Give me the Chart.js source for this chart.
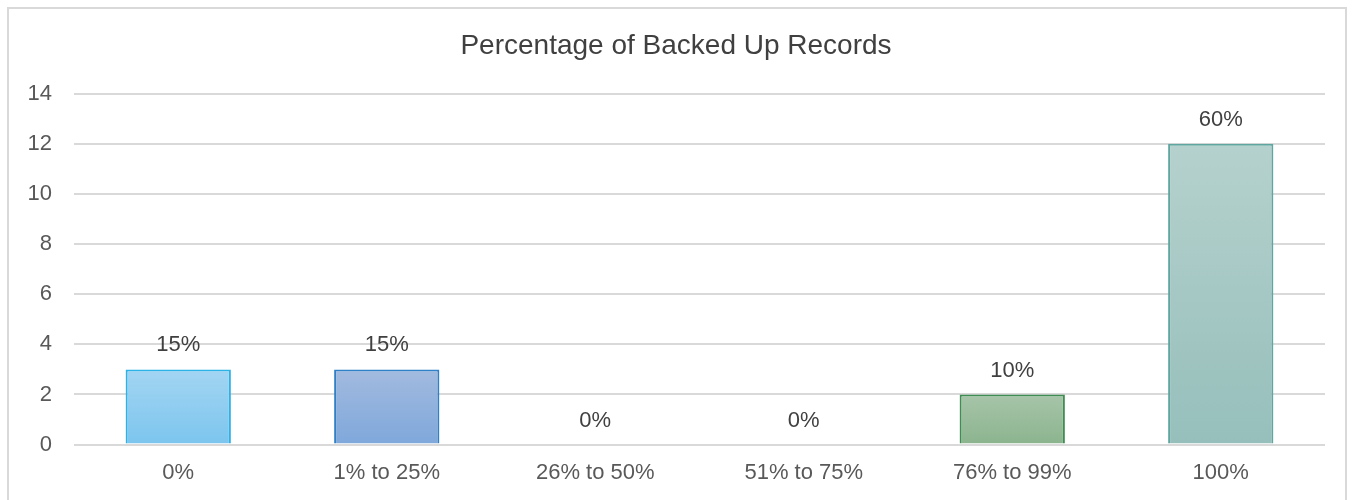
<!DOCTYPE html>
<html>
<head>
<meta charset="utf-8">
<script src="https://cdn.jsdelivr.net/npm/chart.js@4.4.1/dist/chart.umd.min.js"></script>
<style>
  html, body { margin: 0; padding: 0; background: #fff; }
  #box {
    position: absolute; left: 7px; top: 7px; width: 1340px; height: 510px;
    border: 2px solid #d9d9d9; box-sizing: border-box; background: #fff;
  }
  #wrap { position: absolute; left: 0; top: 0; width: 1336px; height: 493px; }
</style>
</head>
<body>
<div id="box"><div id="wrap"><canvas id="myChart"></canvas></div></div>
<script>
const categories = ['0%', '1% to 25%', '26% to 50%', '51% to 75%', '76% to 99%', '100%'];
const counts = [3, 3, 0, 0, 2, 12];
const shareLabels = ['15%', '15%', '0%', '0%', '10%', '60%'];
const yTicks = [0, 2, 4, 6, 8, 10, 12, 14];

const topColors = ['#a3d5f2', '#a2badf', '#c9dcc9', '#c9dcc9', '#a7c5a9', '#b5d1cd'];
const bottomColors = ['#7cc5ee', '#7fa8db', '#8fb692', '#8fb692', '#8bb48e', '#96bfbb'];
const borderColors = ['#2db2e8', '#2f80c6', '#3f8d52', '#3f8d52', '#3f8d52', '#5fa6a0'];

const fontFamily = '"Liberation Sans", Arial, sans-serif';

// percentage text above each bar
const valueLabels = {
  id: 'valueLabels',
  afterDatasetsDraw(chart) {
    const ctx = chart.ctx;
    const meta = chart.getDatasetMeta(0);
    ctx.save();
    ctx.fillStyle = '#404040';
    ctx.font = '22px ' + fontFamily;
    ctx.textAlign = 'center';
    ctx.textBaseline = 'middle';
    meta.data.forEach(function (bar, i) {
      ctx.fillText(shareLabels[i], bar.x, bar.y - 24);
    });
    ctx.restore();
  }
};

new Chart(document.getElementById('myChart'), {
  type: 'bar',
  data: {
    labels: categories,
    datasets: [{
      label: 'Records',
      data: counts,
      backgroundColor: function (c) {
        const chart = c.chart;
        const y = chart.scales.y;
        if (!chart.chartArea || !y) return bottomColors[c.dataIndex];
        const top = y.getPixelForValue(counts[c.dataIndex]);
        const bottom = y.getPixelForValue(0);
        if (bottom - top < 1) return bottomColors[c.dataIndex];
        const g = chart.ctx.createLinearGradient(0, top, 0, bottom);
        g.addColorStop(0, topColors[c.dataIndex]);
        g.addColorStop(1, bottomColors[c.dataIndex]);
        return g;
      },
      borderColor: borderColors,
      borderWidth: 2,
      borderSkipped: 'bottom',
      barPercentage: 0.505,
      categoryPercentage: 1.0
    }]
  },
  options: {
    responsive: true,
    maintainAspectRatio: false,
    animation: false,
    layout: { padding: { left: 18, right: 20, top: 0, bottom: 1 } },
    plugins: {
      legend: { display: false },
      tooltip: { enabled: false },
      title: {
        display: true,
        text: 'Percentage of Backed Up Records',
        color: '#404040',
        font: { family: fontFamily, size: 28, weight: 'normal' },
        padding: { top: 20, bottom: 31 }
      }
    },
    scales: {
      x: {
        grid: { display: false, drawTicks: false },
        border: { display: false },
        ticks: { color: '#595959', font: { family: fontFamily, size: 22 }, padding: 15 }
      },
      y: {
        min: 0,
        max: 14,
        afterBuildTicks: function (axis) {
          axis.ticks = yTicks.map(function (v) { return { value: v }; });
        },
        afterFit: function (axis) { axis.width = 47; },
        grid: { color: '#d9d9d9', lineWidth: 2, drawTicks: false },
        border: { display: false },
        ticks: { color: '#595959', font: { family: fontFamily, size: 22 }, padding: 22 }
      }
    }
  },
  plugins: [valueLabels]
});
</script>
</body>
</html>
